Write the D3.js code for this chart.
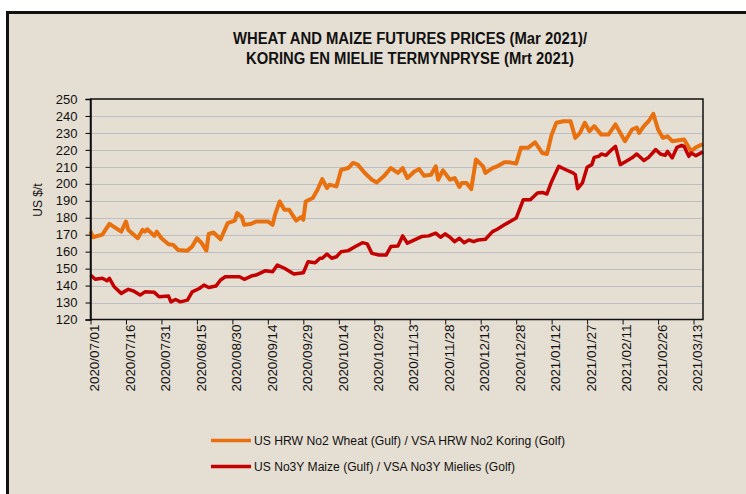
<!DOCTYPE html>
<html>
<head>
<meta charset="utf-8">
<script src="https://cdn.jsdelivr.net/npm/d3@7"></script>
<style>
  body { margin: 0; background: #fff; }
  text { font-family: "Liberation Sans", Arial, sans-serif; fill: #111; }
</style>
</head>
<body>
<script>
const width = 746;
const height = 494;

// wheat / koring, US$/t
const wheat = [
  ["2020-07-01", 172], ["2020-07-02", 168.5], ["2020-07-06", 170], ["2020-07-09", 176.4],
  ["2020-07-14", 171.8], ["2020-07-16", 177.8], ["2020-07-17", 172.8], ["2020-07-21", 167.9],
  ["2020-07-23", 172.8], ["2020-07-24", 171.8], ["2020-07-25", 173.2], ["2020-07-28", 169.3],
  ["2020-07-29", 171.8], ["2020-07-31", 167.9], ["2020-08-03", 164.4], ["2020-08-05", 164],
  ["2020-08-07", 161], ["2020-08-11", 160.6], ["2020-08-13", 163], ["2020-08-15", 167.9],
  ["2020-08-17", 165], ["2020-08-19", 160.6], ["2020-08-20", 170.5], ["2020-08-22", 171.3],
  ["2020-08-25", 167.3], ["2020-08-28", 176.8], ["2020-08-31", 178.3], ["2020-09-01", 182.7],
  ["2020-09-03", 180.4], ["2020-09-04", 175.8], ["2020-09-07", 176.4], ["2020-09-09", 177.8],
  ["2020-09-12", 177.8], ["2020-09-14", 177.8], ["2020-09-16", 175.8], ["2020-09-17", 181.7],
  ["2020-09-19", 189.6], ["2020-09-21", 184.7], ["2020-09-23", 184.7], ["2020-09-25", 180.4],
  ["2020-09-26", 178.3], ["2020-09-28", 180.4], ["2020-09-29", 178.8], ["2020-09-30", 189.6],
  ["2020-10-03", 191.6], ["2020-10-05", 196.5], ["2020-10-07", 202.8], ["2020-10-09", 197.5],
  ["2020-10-10", 199.5], ["2020-10-13", 198.5], ["2020-10-15", 208.3], ["2020-10-18", 209.3],
  ["2020-10-20", 212.3], ["2020-10-22", 211.3], ["2020-10-25", 206.4], ["2020-10-28", 202.4],
  ["2020-10-30", 200.8], ["2020-11-02", 204.4], ["2020-11-05", 209.3], ["2020-11-08", 206.4],
  ["2020-11-10", 209.3], ["2020-11-12", 203.4], ["2020-11-15", 207.3], ["2020-11-17", 208.7],
  ["2020-11-19", 204.8], ["2020-11-22", 205.4], ["2020-11-24", 210.3], ["2020-11-25", 202.4],
  ["2020-11-27", 207.9], ["2020-11-30", 202.4], ["2020-12-02", 203.4], ["2020-12-04", 198.1],
  ["2020-12-05", 200.5], ["2020-12-07", 200.5], ["2020-12-09", 196.9], ["2020-12-11", 214.3],
  ["2020-12-14", 210.3], ["2020-12-15", 206.4], ["2020-12-18", 209.3], ["2020-12-20", 210.3],
  ["2020-12-23", 212.7], ["2020-12-25", 212.7], ["2020-12-28", 211.9], ["2020-12-30", 221.2],
  ["2021-01-02", 221.2], ["2021-01-05", 224.5], ["2021-01-08", 218.2], ["2021-01-10", 217.6],
  ["2021-01-12", 229], ["2021-01-14", 236], ["2021-01-17", 236.9], ["2021-01-20", 236.9],
  ["2021-01-22", 227.1], ["2021-01-24", 230], ["2021-01-26", 236], ["2021-01-28", 231],
  ["2021-01-30", 234], ["2021-02-02", 229], ["2021-02-05", 229], ["2021-02-08", 235],
  ["2021-02-12", 225.1], ["2021-02-15", 232], ["2021-02-17", 233.2], ["2021-02-18", 230],
  ["2021-02-20", 234], ["2021-02-22", 236.9], ["2021-02-24", 241.3], ["2021-02-26", 232],
  ["2021-02-28", 227.1], ["2021-03-02", 228], ["2021-03-04", 225.1], ["2021-03-06", 225.5],
  ["2021-03-09", 226.1], ["2021-03-12", 219.2], ["2021-03-14", 221.5], ["2021-03-17", 223.5]
];

// maize / mielies, US$/t
const maize = [
  ["2020-07-01", 146.2], ["2020-07-03", 143.7], ["2020-07-06", 144.3], ["2020-07-08", 142.8],
  ["2020-07-09", 144.3], ["2020-07-11", 139.3], ["2020-07-14", 135.4], ["2020-07-17", 137.8],
  ["2020-07-19", 136.9], ["2020-07-22", 134.4], ["2020-07-24", 136.3], ["2020-07-28", 136],
  ["2020-07-30", 133.4], ["2020-08-03", 133.8], ["2020-08-04", 130.4], ["2020-08-06", 131.8],
  ["2020-08-08", 130.4], ["2020-08-11", 131.4], ["2020-08-13", 136.3], ["2020-08-16", 138.3],
  ["2020-08-18", 140.3], ["2020-08-20", 138.9], ["2020-08-23", 139.7], ["2020-08-25", 143.3],
  ["2020-08-27", 145.2], ["2020-08-31", 145.2], ["2020-09-02", 145.2], ["2020-09-04", 143.7],
  ["2020-09-07", 145.6], ["2020-09-09", 146.2], ["2020-09-13", 148.8], ["2020-09-16", 148.2],
  ["2020-09-18", 152.1], ["2020-09-21", 150.2], ["2020-09-25", 146.8], ["2020-09-29", 147.6],
  ["2020-10-01", 154.1], ["2020-10-04", 153.5], ["2020-10-06", 156.1], ["2020-10-07", 156.1],
  ["2020-10-09", 158.6], ["2020-10-11", 156.1], ["2020-10-13", 157], ["2020-10-15", 160],
  ["2020-10-18", 160.6], ["2020-10-21", 163], ["2020-10-24", 165.3], ["2020-10-26", 164.6],
  ["2020-10-28", 159], ["2020-10-31", 158], ["2020-11-03", 158], ["2020-11-05", 163],
  ["2020-11-08", 163.4], ["2020-11-10", 169.3], ["2020-11-12", 165], ["2020-11-15", 166.9],
  ["2020-11-18", 168.9], ["2020-11-21", 169.3], ["2020-11-24", 170.9], ["2020-11-26", 168.5],
  ["2020-11-28", 170.5], ["2020-11-30", 168.5], ["2020-12-02", 165.9], ["2020-12-04", 167.9],
  ["2020-12-06", 165.3], ["2020-12-08", 166.9], ["2020-12-10", 165.9], ["2020-12-12", 166.9],
  ["2020-12-15", 167.3], ["2020-12-18", 171.8], ["2020-12-20", 173.2], ["2020-12-23", 175.8],
  ["2020-12-28", 179.8], ["2020-12-31", 190.6], ["2021-01-03", 190.6], ["2021-01-06", 194.6],
  ["2021-01-08", 194.9], ["2021-01-10", 194], ["2021-01-12", 201.4], ["2021-01-15", 210.3],
  ["2021-01-18", 208.3], ["2021-01-21", 206.4], ["2021-01-22", 205.4], ["2021-01-23", 197.1],
  ["2021-01-25", 200.5], ["2021-01-27", 209.7], ["2021-01-29", 211.3], ["2021-01-30", 215.6],
  ["2021-02-01", 216.2], ["2021-02-02", 217.6], ["2021-02-04", 216.8], ["2021-02-06", 219.6],
  ["2021-02-08", 222.1], ["2021-02-10", 211.3], ["2021-02-12", 212.9], ["2021-02-15", 215.3],
  ["2021-02-17", 217.6], ["2021-02-20", 213.7], ["2021-02-22", 215.6], ["2021-02-25", 220.2],
  ["2021-02-27", 217.6], ["2021-03-01", 216.8], ["2021-03-02", 219.1], ["2021-03-04", 215.3],
  ["2021-03-06", 221.5], ["2021-03-08", 222.7], ["2021-03-09", 222.1], ["2021-03-11", 216.2],
  ["2021-03-12", 218.2], ["2021-03-14", 216.6], ["2021-03-17", 218.8]
];

const tickDates = [
  "2020-07-01", "2020-07-16", "2020-07-31", "2020-08-15", "2020-08-30", "2020-09-14",
  "2020-09-29", "2020-10-14", "2020-10-29", "2020-11-13", "2020-11-28", "2020-12-13",
  "2020-12-28", "2021-01-12", "2021-01-27", "2021-02-11", "2021-02-26", "2021-03-13"
];
const yTicks = [120, 130, 140, 150, 160, 170, 180, 190, 200, 210, 220, 230, 240, 250];

const titleLines = [
  "WHEAT AND MAIZE FUTURES PRICES (Mar 2021)/",
  "KORING EN MIELIE TERMYNPRYSE (Mrt 2021)"
];
const seriesNames = [
  "US HRW No2 Wheat (Gulf) / VSA HRW No2 Koring (Golf)",
  "US No3Y Maize (Gulf) / VSA No3Y Mielies (Golf)"
];
const colors = ["#e8700e", "#c40000"];

const parse = d3.timeParse("%Y-%m-%d");

const svg = d3.select("body").append("svg")
  .attr("width", width)
  .attr("height", height);

// frame
svg.append("rect")
  .attr("x", 7.5)
  .attr("y", 12.5)
  .attr("width", 800)
  .attr("height", 600)
  .attr("fill", "#e5ded2")
  .attr("stroke", "#111")
  .attr("stroke-width", 3);

svg.selectAll(".title")
  .data(titleLines)
  .enter()
  .append("text")
  .attr("class", "title")
  .attr("x", 410)
  .attr("y", (d, i) => 44 + i * 20)
  .attr("text-anchor", "middle")
  .attr("textLength", (d, i) => i === 0 ? 354 : 328)
  .attr("lengthAdjust", "spacingAndGlyphs")
  .style("font-family", "'Liberation Sans Narrow', 'Arial Narrow', sans-serif")
  .style("font-size", "16px")
  .style("font-weight", "bold")
  .text((d) => d);

const x = d3.scaleTime()
  .domain([parse("2020-07-01"), parse("2021-03-17")])
  .range([90.5, 703]);

const y = d3.scaleLinear()
  .domain([120, 250])
  .range([319.5, 99]);

// gridlines
svg.append("g")
  .selectAll("line")
  .data(yTicks.slice(1, -1))
  .enter()
  .append("line")
  .attr("x1", x.range()[0])
  .attr("x2", x.range()[1])
  .attr("y1", (d) => Math.round(y(d)) + 0.5)
  .attr("y2", (d) => Math.round(y(d)) + 0.5)
  .attr("stroke", "#bdbdc4")
  .attr("stroke-width", 1);

const line = d3.line()
  .x((d) => x(parse(d[0])))
  .y((d) => y(d[1]));

[wheat, maize].forEach((s, i) => {
  svg.append("path")
    .datum(s)
    .attr("d", line)
    .attr("fill", "none")
    .attr("stroke", colors[i])
    .attr("stroke-width", i === 0 ? 4 : 3.5)
    .attr("stroke-linejoin", "round");
});

// plot border
svg.append("rect")
  .attr("x", x.range()[0])
  .attr("y", y.range()[1])
  .attr("width", x.range()[1] - x.range()[0])
  .attr("height", y.range()[0] - y.range()[1])
  .attr("fill", "none")
  .attr("stroke", "#111")
  .attr("stroke-width", 1.5);

const yAxis = d3.axisLeft(y)
  .tickValues(yTicks)
  .tickSize(5)
  .tickPadding(8);

svg.append("g")
  .attr("transform", "translate(" + x.range()[0] + ",0)")
  .call(yAxis)
  .call((g) => g.select(".domain").attr("stroke", "#111").attr("stroke-width", 1.5))
  .call((g) => g.selectAll("text").style("font-size", "13px").attr("fill", "#111"));

const xAxis = d3.axisBottom(x)
  .tickValues(tickDates.map(parse))
  .tickSize(5)
  .tickFormat(d3.timeFormat("%Y/%m/%d"));

svg.append("g")
  .attr("transform", "translate(0," + y.range()[0] + ")")
  .call(xAxis)
  .call((g) => g.select(".domain").remove())
  .call((g) => g.selectAll("line").attr("stroke", "#111"))
  .selectAll("text")
    .attr("transform", "rotate(-90)")
    .attr("x", -5)
    .attr("y", 4)
    .attr("dy", "0.35em")
    .attr("textLength", 67)
    .attr("lengthAdjust", "spacingAndGlyphs")
    .style("text-anchor", "end")
    .style("font-size", "12px")
    .attr("fill", "#111");

svg.append("text")
  .attr("transform", "translate(42,200) rotate(-90)")
  .attr("text-anchor", "middle")
  .style("font-size", "12px")
  .text("US $/t");

// legend
const legend = svg.append("g");
seriesNames.forEach((name, i) => {
  legend.append("line")
    .attr("x1", 211)
    .attr("x2", 251)
    .attr("y1", 440.5 + i * 26)
    .attr("y2", 440.5 + i * 26)
    .attr("stroke", colors[i])
    .attr("stroke-width", 3.5);
  legend.append("text")
    .attr("x", 254)
    .attr("y", 440.5 + i * 26)
    .attr("dy", "0.35em")
    .attr("textLength", i === 0 ? 311 : 261)
    .attr("lengthAdjust", "spacingAndGlyphs")
    .style("font-size", "12px")
    .text(name);
});
</script>
</body>
</html>
